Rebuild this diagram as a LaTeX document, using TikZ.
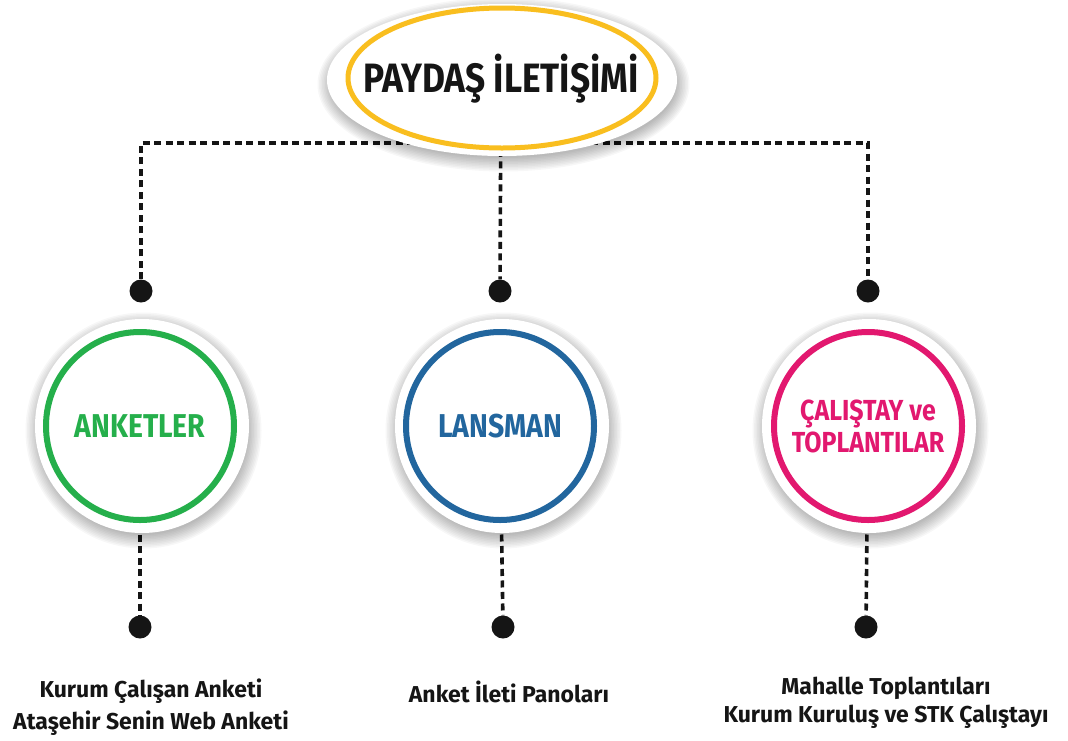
\documentclass[tikz,border=0pt]{standalone}
\usepackage{fontspec}
\setmainfont{Fira Sans}
\newfontfamily\darfont{Fira Sans}[FakeStretch=0.86]
\usetikzlibrary{backgrounds}

\definecolor{sari}{HTML}{F9BE1F}
\definecolor{yesil}{HTML}{25AF4B}
\definecolor{mavi}{HTML}{22669E}
\definecolor{pembe}{HTML}{E2186F}
\definecolor{koyu}{HTML}{151515}

% yumusak golge: merkez, yaricap x, yaricap y
\newcommand{\golge}[3]{%
  \foreach \k in {0,...,9}
    \fill[black,opacity=0.03,shift={(#1)}] (1.5,4.5) ellipse ({#2+11-\k*1.5} and {#3+11-\k*1.5});
  \fill[white,shift={(#1)}] (0,0) ellipse ({#2} and {#3});
}

\tikzset{
  kesik/.style={koyu,line width=3.6pt,dash pattern=on 7pt off 4.5pt},
  nokta/.style={circle,fill=koyu,minimum size=23pt,inner sep=0pt},
  halka/.style={circle,draw=#1,line width=6pt,minimum size=188pt,inner sep=0pt,
    fill=white,text=#1,align=center,font=\darfont\bfseries\fontsize{33}{35}\selectfont},
  altyazi/.style={text=koyu,align=center,font=\bfseries\fontsize{23}{#1}\selectfont},
}

\begin{document}
\begin{tikzpicture}[x=1pt,y=-1pt]
  \useasboundingbox (0,0) rectangle (1068,740);

  % ana baslik
  \node[inner sep=0pt,font=\darfont\bfseries\fontsize{41}{44}\selectfont,text=koyu]
    (paydas) at (501,79) {PAYDAŞ İLETİŞİMİ};

  % uc grup
  \node[halka=yesil] (anket) at (140,426) {ANKETLER};
  \node[halka=mavi] (lansman) at (500,426) {LANSMAN};
  \node[halka=pembe,font=\darfont\bfseries\fontsize{29}{32}\selectfont]
    (calistay) at (868,426) {ÇALIŞTAY ve\\TOPLANTILAR};

  % noktalar
  \node[nokta] (ustA) at (141,291) {};
  \node[nokta] (ustB) at (500,291) {};
  \node[nokta] (ustC) at (868,291) {};
  \node[nokta] (altA) at (140,627) {};
  \node[nokta] (altB) at (503,627) {};
  \node[nokta] (altC) at (866,627) {};
  \coordinate (kol) at (0,143);

  % alt yazilar
  \node[altyazi=32pt] (yaziA) at (151,707) {Kurum Çalışan Anketi\\Ataşehir Senin Web Anketi};
  \node[altyazi=32pt] (yaziB) at (509,692) {Anket İleti Panoları};
  \node[altyazi=28pt] (yaziC) at (886,703) {Mahalle Toplantıları\\Kurum Kuruluş ve STK Çalıştayı};

  \begin{pgfonlayer}{background}
    \draw[kesik] (ustA) -- (ustA |- kol) -- (ustC |- kol) -- (ustC);
    \draw[kesik] (paydas) -- (ustB);
    \draw[kesik] (anket) -- (altA);
    \draw[kesik] (lansman) -- (altB);
    \draw[kesik] (calistay) -- (altC);
    \golge{502,80}{175}{76}
    \draw[sari,line width=5pt] (502,78) ellipse (154 and 70);
    \golge{142,426}{107}{107}
    \golge{502,426}{107}{107}
    \golge{869,426}{107}{107}
  \end{pgfonlayer}
\end{tikzpicture}
\end{document}
